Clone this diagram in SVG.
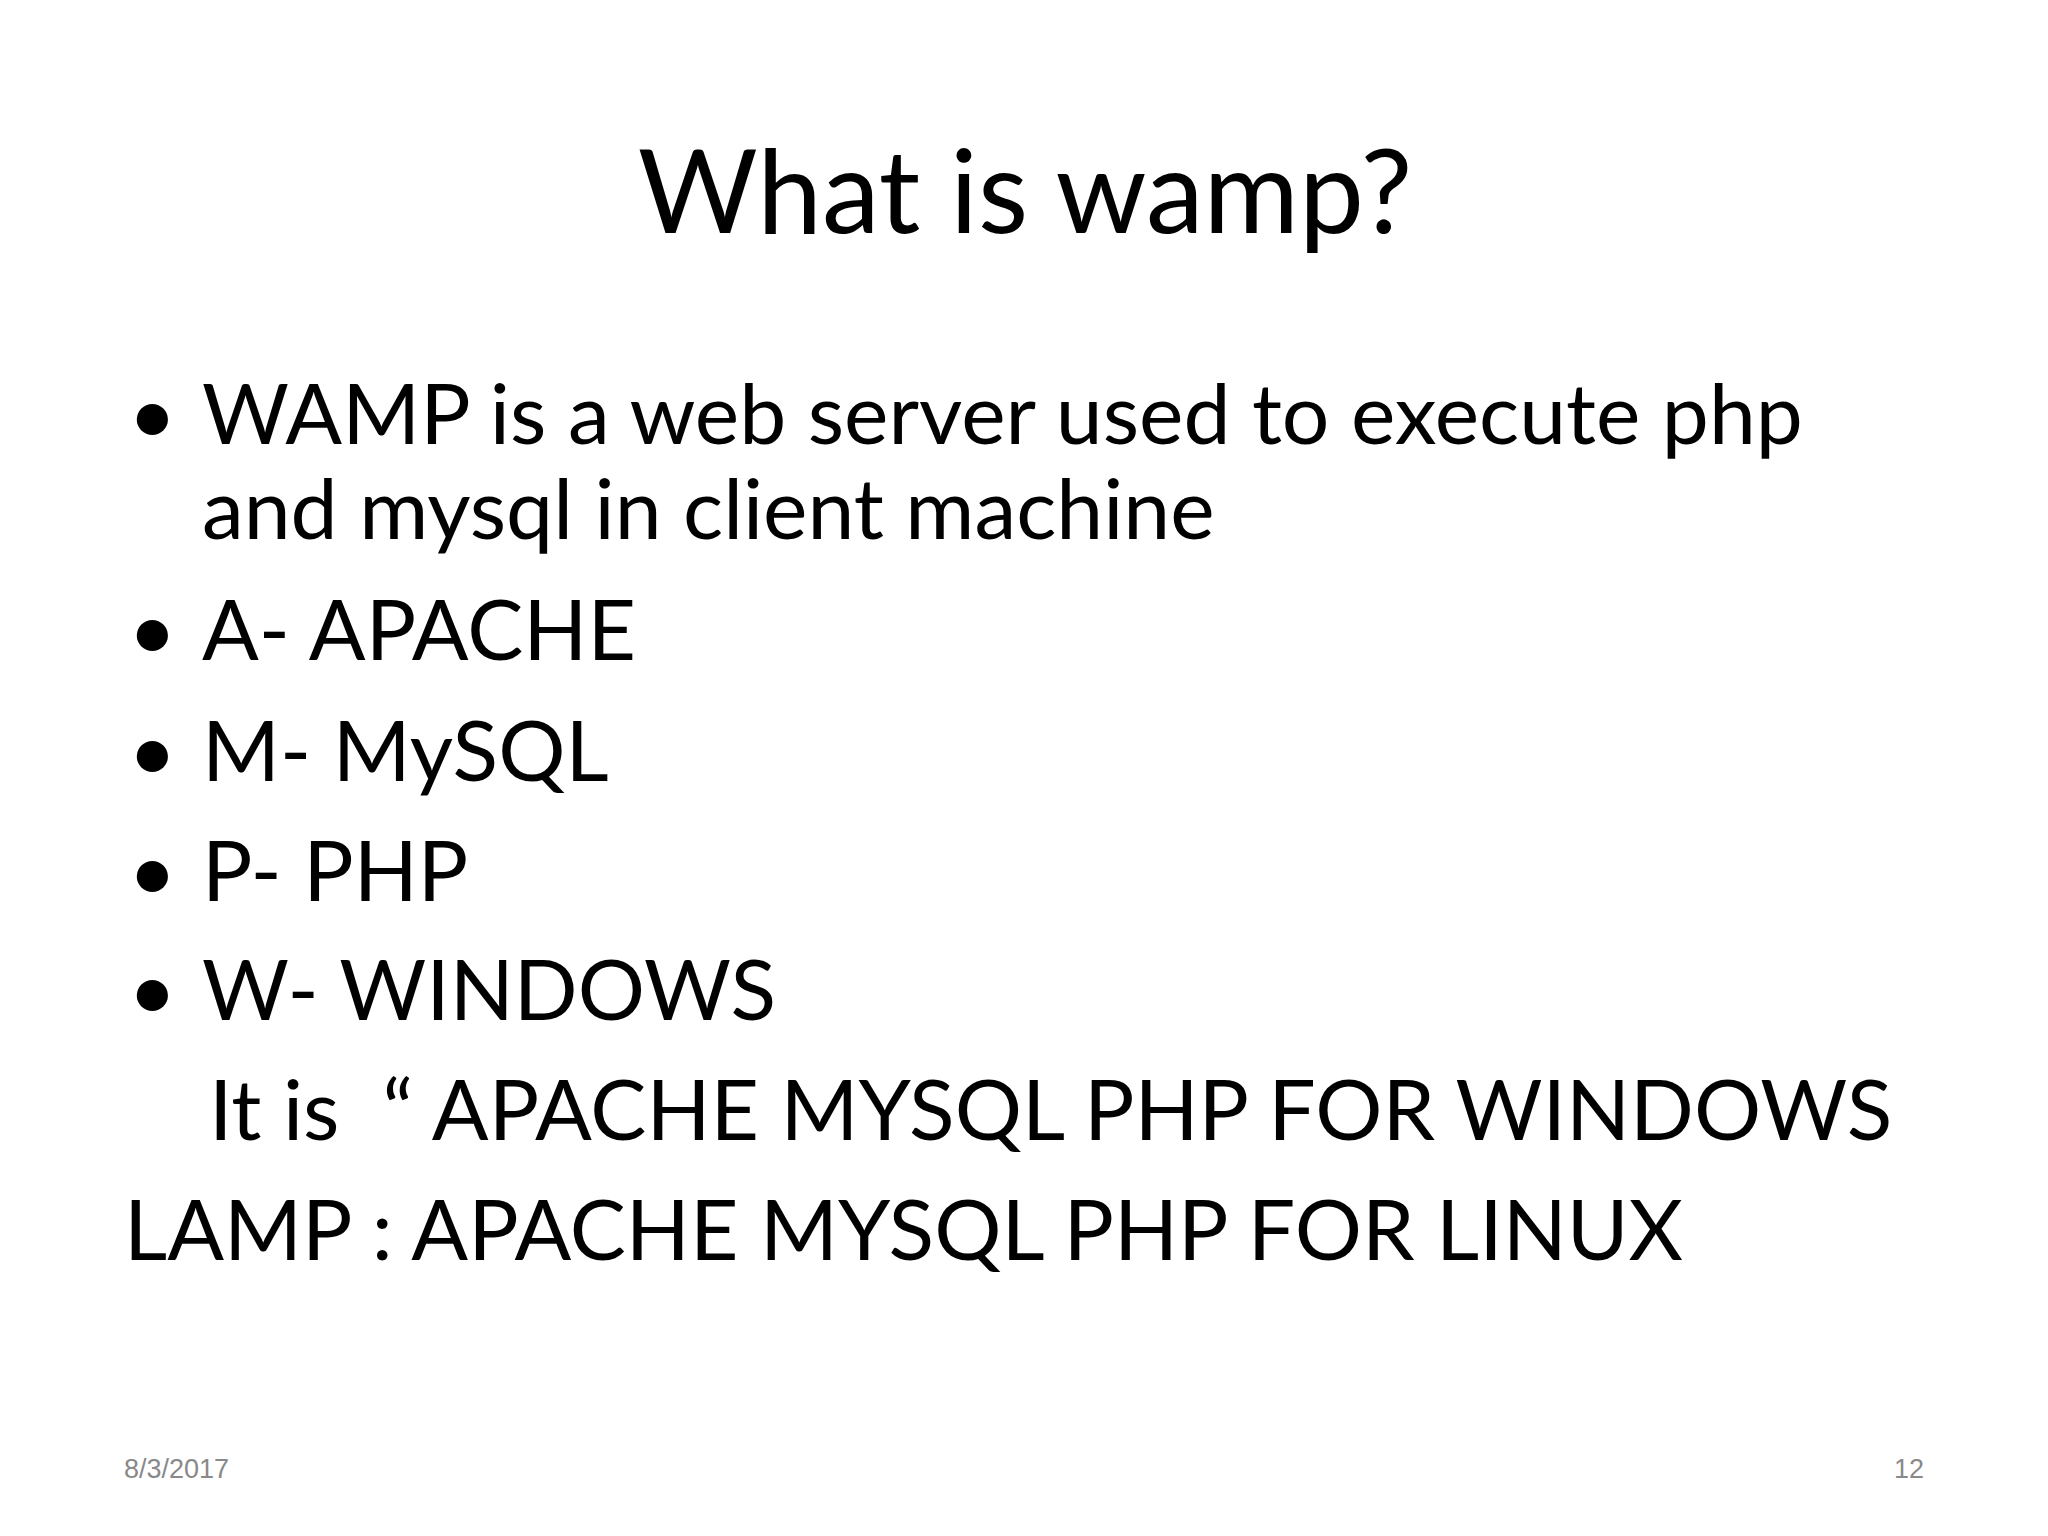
<svg xmlns="http://www.w3.org/2000/svg" width="2048" height="1536" viewBox="0 0 2048 1536">
<style>
.t{font-family:Lato,"Open Sans","Noto Sans",sans-serif;fill:#000}
.b{font-size:84px}
.f{font-family:"Liberation Sans",Arial,sans-serif;font-size:27px;fill:#898989}
</style>
<rect width="2048" height="1536" fill="#fff"/>
<g id="title"><text class="t" x="1025" y="233" font-size="116" text-anchor="middle">What is wamp?</text></g>
<g id="body" class="t b">
<text class="t b" x="128" y="444">•</text>
<text class="t b" x="202" y="444">WAMP is a web server used to execute php</text>
<text class="t b" x="202" y="539">and mysql in client machine</text>
<text class="t b" x="128" y="660">•</text>
<text class="t b" x="202" y="660">A- APACHE</text>
<text class="t b" x="128" y="781">•</text>
<text class="t b" x="202" y="781">M- MySQL</text>
<text class="t b" x="128" y="901">•</text>
<text class="t b" x="202" y="901">P- PHP</text>
<text class="t b" x="128" y="1020">•</text>
<text class="t b" x="202" y="1020">W- WINDOWS</text>
<text class="t b" x="209" y="1140" xml:space="preserve">It is  “ APACHE MYSQL PHP FOR WINDOWS</text>
<text class="t b" x="124" y="1260">LAMP : APACHE MYSQL PHP FOR LINUX</text>
</g>
<g id="footer">
<text class="f" x="124" y="1478">8/3/2017</text>
<text class="f" x="1924" y="1478" text-anchor="end">12</text>
</g>
</svg>
